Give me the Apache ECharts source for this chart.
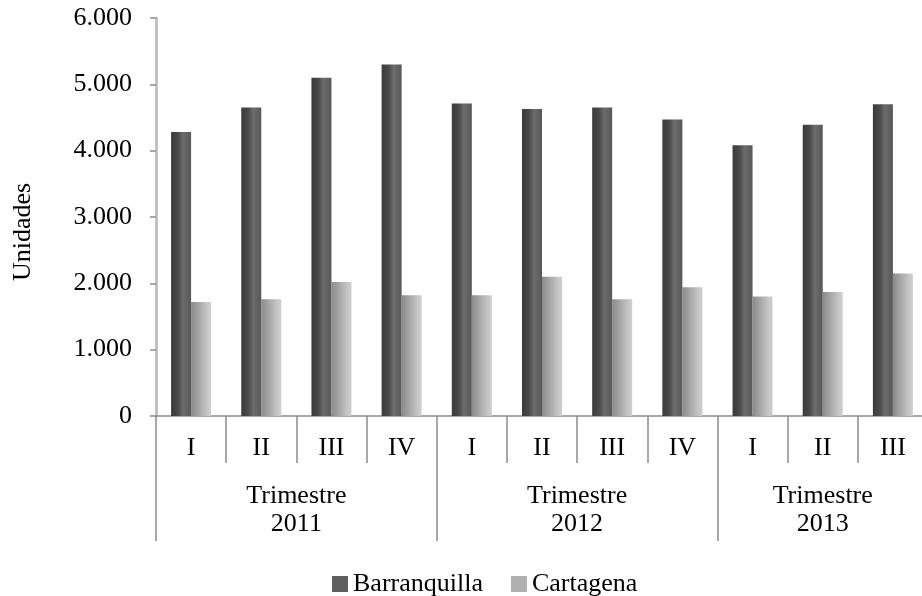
<!DOCTYPE html>
<html>
<head>
<meta charset="utf-8">
<script src="https://cdn.jsdelivr.net/npm/echarts@6/dist/echarts.min.js"></script>
<style>
  html, body { margin: 0; padding: 0; background: #ffffff; }
  #chart { width: 922px; height: 596px; }
</style>
</head>
<body>
<div id="chart"></div>
<script>
// ---- Data ----
var quarters = ['I', 'II', 'III', 'IV', 'I', 'II', 'III', 'IV', 'I', 'II', 'III'];
var groupLabels = ['Trimestre\n2011', 'Trimestre\n2012', 'Trimestre\n2013'];
var groupSizes = [4, 4, 3];
var barranquilla = [4280, 4650, 5100, 5300, 4710, 4630, 4650, 4470, 4080, 4390, 4700];
var cartagena = [1720, 1760, 2020, 1820, 1820, 2100, 1760, 1940, 1800, 1870, 2150];
var seriesNames = ['Barranquilla', 'Cartagena'];
var yTicks = [0, 1000, 2000, 3000, 4000, 5000, 6000];

// ---- Build the group (year) axis on half-quarter points ----
var nHalf = quarters.length * 2 + 1;
var halfLabels = [];
for (var i = 0; i < nHalf; i++) halfLabels.push('');
var boundaries = {};
var start = 0;
boundaries[0] = true;
for (var g = 0; g < groupLabels.length; g++) {
  halfLabels[start * 2 + groupSizes[g]] = groupLabels[g];
  start += groupSizes[g];
  boundaries[start * 2] = true;
}

var FONT = '"Liberation Serif", "Times New Roman", serif';

function fmt(v) {
  return String(v).replace(/\B(?=(\d{3})+(?!\d))/g, '.');
}

var chart = echarts.init(document.getElementById('chart'), null, { renderer: 'canvas' });
chart.setOption({
  backgroundColor: '#ffffff',
  animation: false,
  textStyle: { fontFamily: FONT },
  grid: { left: 156, top: 18, width: 772, height: 398, containLabel: false, outerBoundsMode: 'none' },
  legend: {
    left: 327,
    top: 566,
    itemWidth: 16,
    itemHeight: 16,
    itemGap: 28,
    icon: 'rect',
    textStyle: { fontFamily: FONT, fontSize: 26, color: '#000' },
    data: [
      { name: seriesNames[0], itemStyle: { color: '#5f5f5f' } },
      { name: seriesNames[1], itemStyle: { color: '#b0b0b0' } }
    ]
  },
  xAxis: [
    {
      type: 'category',
      data: quarters,
      position: 'bottom',
      axisLine: { show: true, lineStyle: { color: '#8c8c8c', width: 1.5 } },
      axisTick: { show: true, interval: 0, length: 47, lineStyle: { color: '#8c8c8c', width: 1.5 } },
      axisLabel: { interval: 0, margin: 19, fontFamily: FONT, fontSize: 26, color: '#000' },
      splitLine: { show: false }
    },
    {
      type: 'category',
      data: halfLabels,
      position: 'bottom',
      boundaryGap: false,
      axisLine: { show: false },
      axisTick: {
        show: true,
        length: 125,
        interval: function (idx) { return !!boundaries[idx]; },
        lineStyle: { color: '#8c8c8c', width: 1.5 }
      },
      axisLabel: { interval: 0, margin: 66, fontFamily: FONT, fontSize: 26, lineHeight: 28, color: '#000' },
      splitLine: { show: false }
    }
  ],
  yAxis: {
    type: 'value',
    min: yTicks[0],
    max: yTicks[yTicks.length - 1],
    interval: 1000,
    name: 'Unidades',
    nameLocation: 'middle',
    nameGap: 120,
    nameTextStyle: { fontFamily: FONT, fontSize: 26, color: '#000', padding: [0, 30, 0, 0] },
    axisLine: { show: true, lineStyle: { color: '#c2c2c2', width: 3 } },
    axisTick: { show: true, length: 6, lineStyle: { color: '#8c8c8c', width: 1.5 } },
    axisLabel: { margin: 24, fontFamily: FONT, fontSize: 26, color: '#000', formatter: fmt },
    splitLine: { show: false }
  },
  series: [
    {
      name: seriesNames[0],
      type: 'bar',
      xAxisIndex: 0,
      data: barranquilla,
      barWidth: 20,
      barGap: '0%',
      itemStyle: {
        color: new echarts.graphic.LinearGradient(0, 0, 1, 0, [
          { offset: 0, color: '#3a3a3a' },
          { offset: 0.35, color: '#4a4a4a' },
          { offset: 0.6, color: '#6c6c6c' },
          { offset: 1, color: '#585858' }
        ])
      }
    },
    {
      name: seriesNames[1],
      type: 'bar',
      xAxisIndex: 0,
      data: cartagena,
      barWidth: 20,
      barGap: '0%',
      itemStyle: {
        color: new echarts.graphic.LinearGradient(0, 0, 1, 0, [
          { offset: 0, color: '#8a8a8a' },
          { offset: 0.4, color: '#a8a8a8' },
          { offset: 0.8, color: '#c6c6c6' },
          { offset: 1, color: '#cfcfcf' }
        ])
      }
    }
  ]
});
</script>
</body>
</html>
